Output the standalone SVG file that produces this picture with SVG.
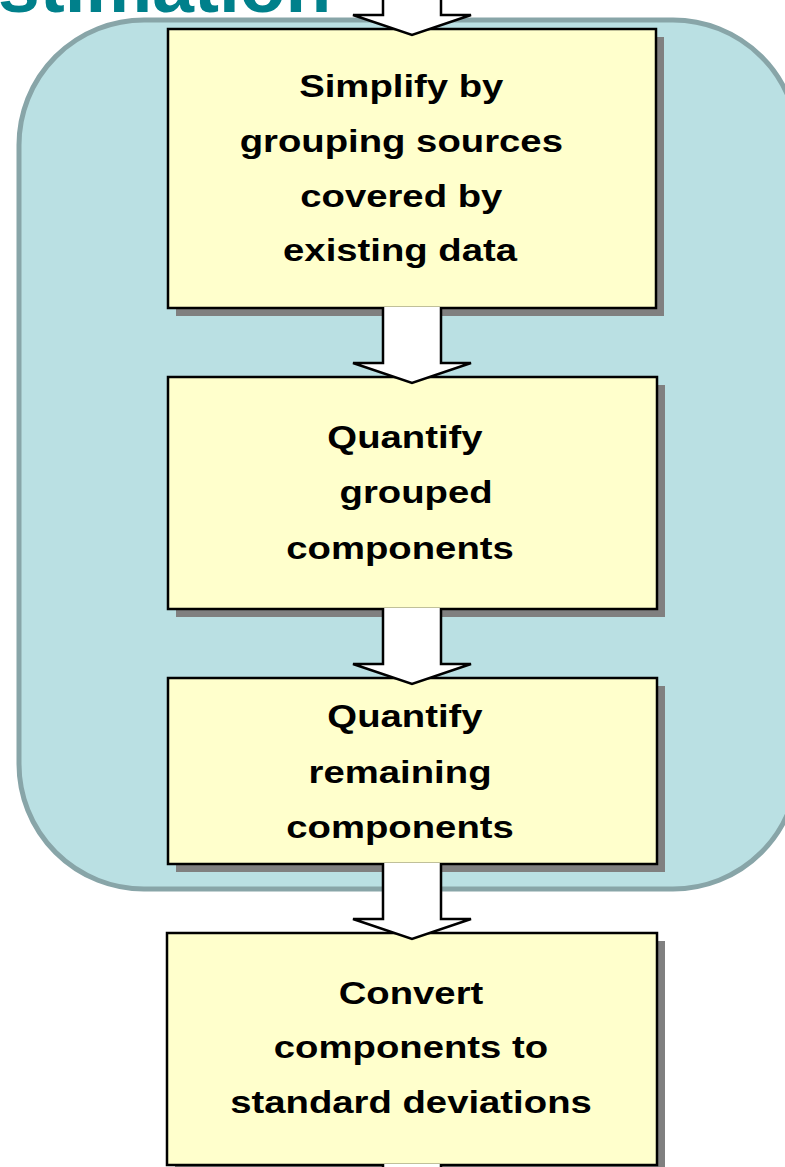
<svg xmlns="http://www.w3.org/2000/svg" width="785" height="1167" viewBox="0 0 785 1167">
  <style>
    .title { font-family: "Liberation Sans", Arial, sans-serif; font-weight: bold; font-size: 75px; fill: #00808B; }
    .shadow { fill: #808080; }
    .box { fill: #FFFFCC; stroke: #000000; stroke-width: 2.5; }
    .label { font-family: "Liberation Sans", Arial, sans-serif; font-weight: bold; font-size: 31px; fill: #000000; text-anchor: middle; }
    .arrow-fill { fill: #FFFFFF; stroke: none; }
    .arrow-edge { fill: none; stroke: #000000; stroke-width: 2.5; stroke-linejoin: miter; }
  </style>
  <defs>
    <!-- block arrow: shaft 58 wide, head 118 wide, 20 deep; origin at shaft top-left -->
    <path id="arrowBody" d="M0,0 L58,0 L58,56 L88,56 L29,76 L-30,56 L0,56 Z"/>
    <path id="arrowOutline" d="M0,0 L0,56 L-30,56 L29,76 L88,56 L58,56 L58,0"/>
  </defs>

  <rect width="785" height="1167" fill="#FFFFFF"/>

  <!-- heading, partly above the top edge -->
  <text class="title" x="-2" y="12">stimation</text>

  <!-- rounded panel around the estimation steps -->
  <rect id="panel" x="19" y="20" width="779" height="869" rx="125" ry="125" fill="#BAE0E3" stroke="#88A5A8" stroke-width="5"/>

  <g id="node-simplify">
    <rect class="shadow" x="176" y="37" width="488" height="279"/>
    <rect class="box" x="168" y="29" width="488" height="279"/>
    <g transform="translate(405 0) scale(1.235 1) translate(-405 0)">
      <text class="label" x="402" y="97">Simplify by</text>
      <text class="label" x="402" y="152">grouping sources </text>
      <text class="label" x="402" y="207">covered by</text>
      <text class="label" x="401" y="261">existing data</text>
    </g>
  </g>

  <g id="node-quantify-grouped">
    <rect class="shadow" x="176" y="385" width="489" height="232"/>
    <rect class="box" x="168" y="377" width="489" height="232"/>
    <g transform="translate(405 0) scale(1.235 1) translate(-405 0)">
      <text class="label" x="405" y="448">Quantify</text>
      <text class="label" x="414" y="503">grouped</text>
      <text class="label" x="401" y="559">components</text>
    </g>
  </g>

  <g id="node-quantify-remaining">
    <rect class="shadow" x="176" y="686" width="489" height="186"/>
    <rect class="box" x="168" y="678" width="489" height="186"/>
    <g transform="translate(405 0) scale(1.235 1) translate(-405 0)">
      <text class="label" x="405" y="727">Quantify</text>
      <text class="label" x="401" y="783">remaining</text>
      <text class="label" x="401" y="838">components</text>
    </g>
  </g>

  <g id="node-convert">
    <rect class="shadow" x="175" y="941" width="490" height="232"/>
    <rect class="box" x="167" y="933" width="490" height="232"/>
    <g transform="translate(411 0) scale(1.235 1) translate(-411 0)">
      <text class="label" x="411" y="1004">Convert</text>
      <text class="label" x="411" y="1058">components to</text>
      <text class="label" x="411" y="1113">standard deviations</text>
    </g>
  </g>

  <g id="connectors">
    <g transform="translate(383 -41)">
      <use href="#arrowBody" class="arrow-fill"/>
      <use href="#arrowOutline" class="arrow-edge"/>
    </g>
    <g transform="translate(383 307)">
      <use href="#arrowBody" class="arrow-fill"/>
      <use href="#arrowOutline" class="arrow-edge"/>
    </g>
    <g transform="translate(383 608)">
      <use href="#arrowBody" class="arrow-fill"/>
      <use href="#arrowOutline" class="arrow-edge"/>
    </g>
    <g transform="translate(383 863)">
      <use href="#arrowBody" class="arrow-fill"/>
      <use href="#arrowOutline" class="arrow-edge"/>
    </g>
    <g transform="translate(383 1164)">
      <use href="#arrowBody" class="arrow-fill"/>
      <use href="#arrowOutline" class="arrow-edge"/>
    </g>
  </g>
</svg>
